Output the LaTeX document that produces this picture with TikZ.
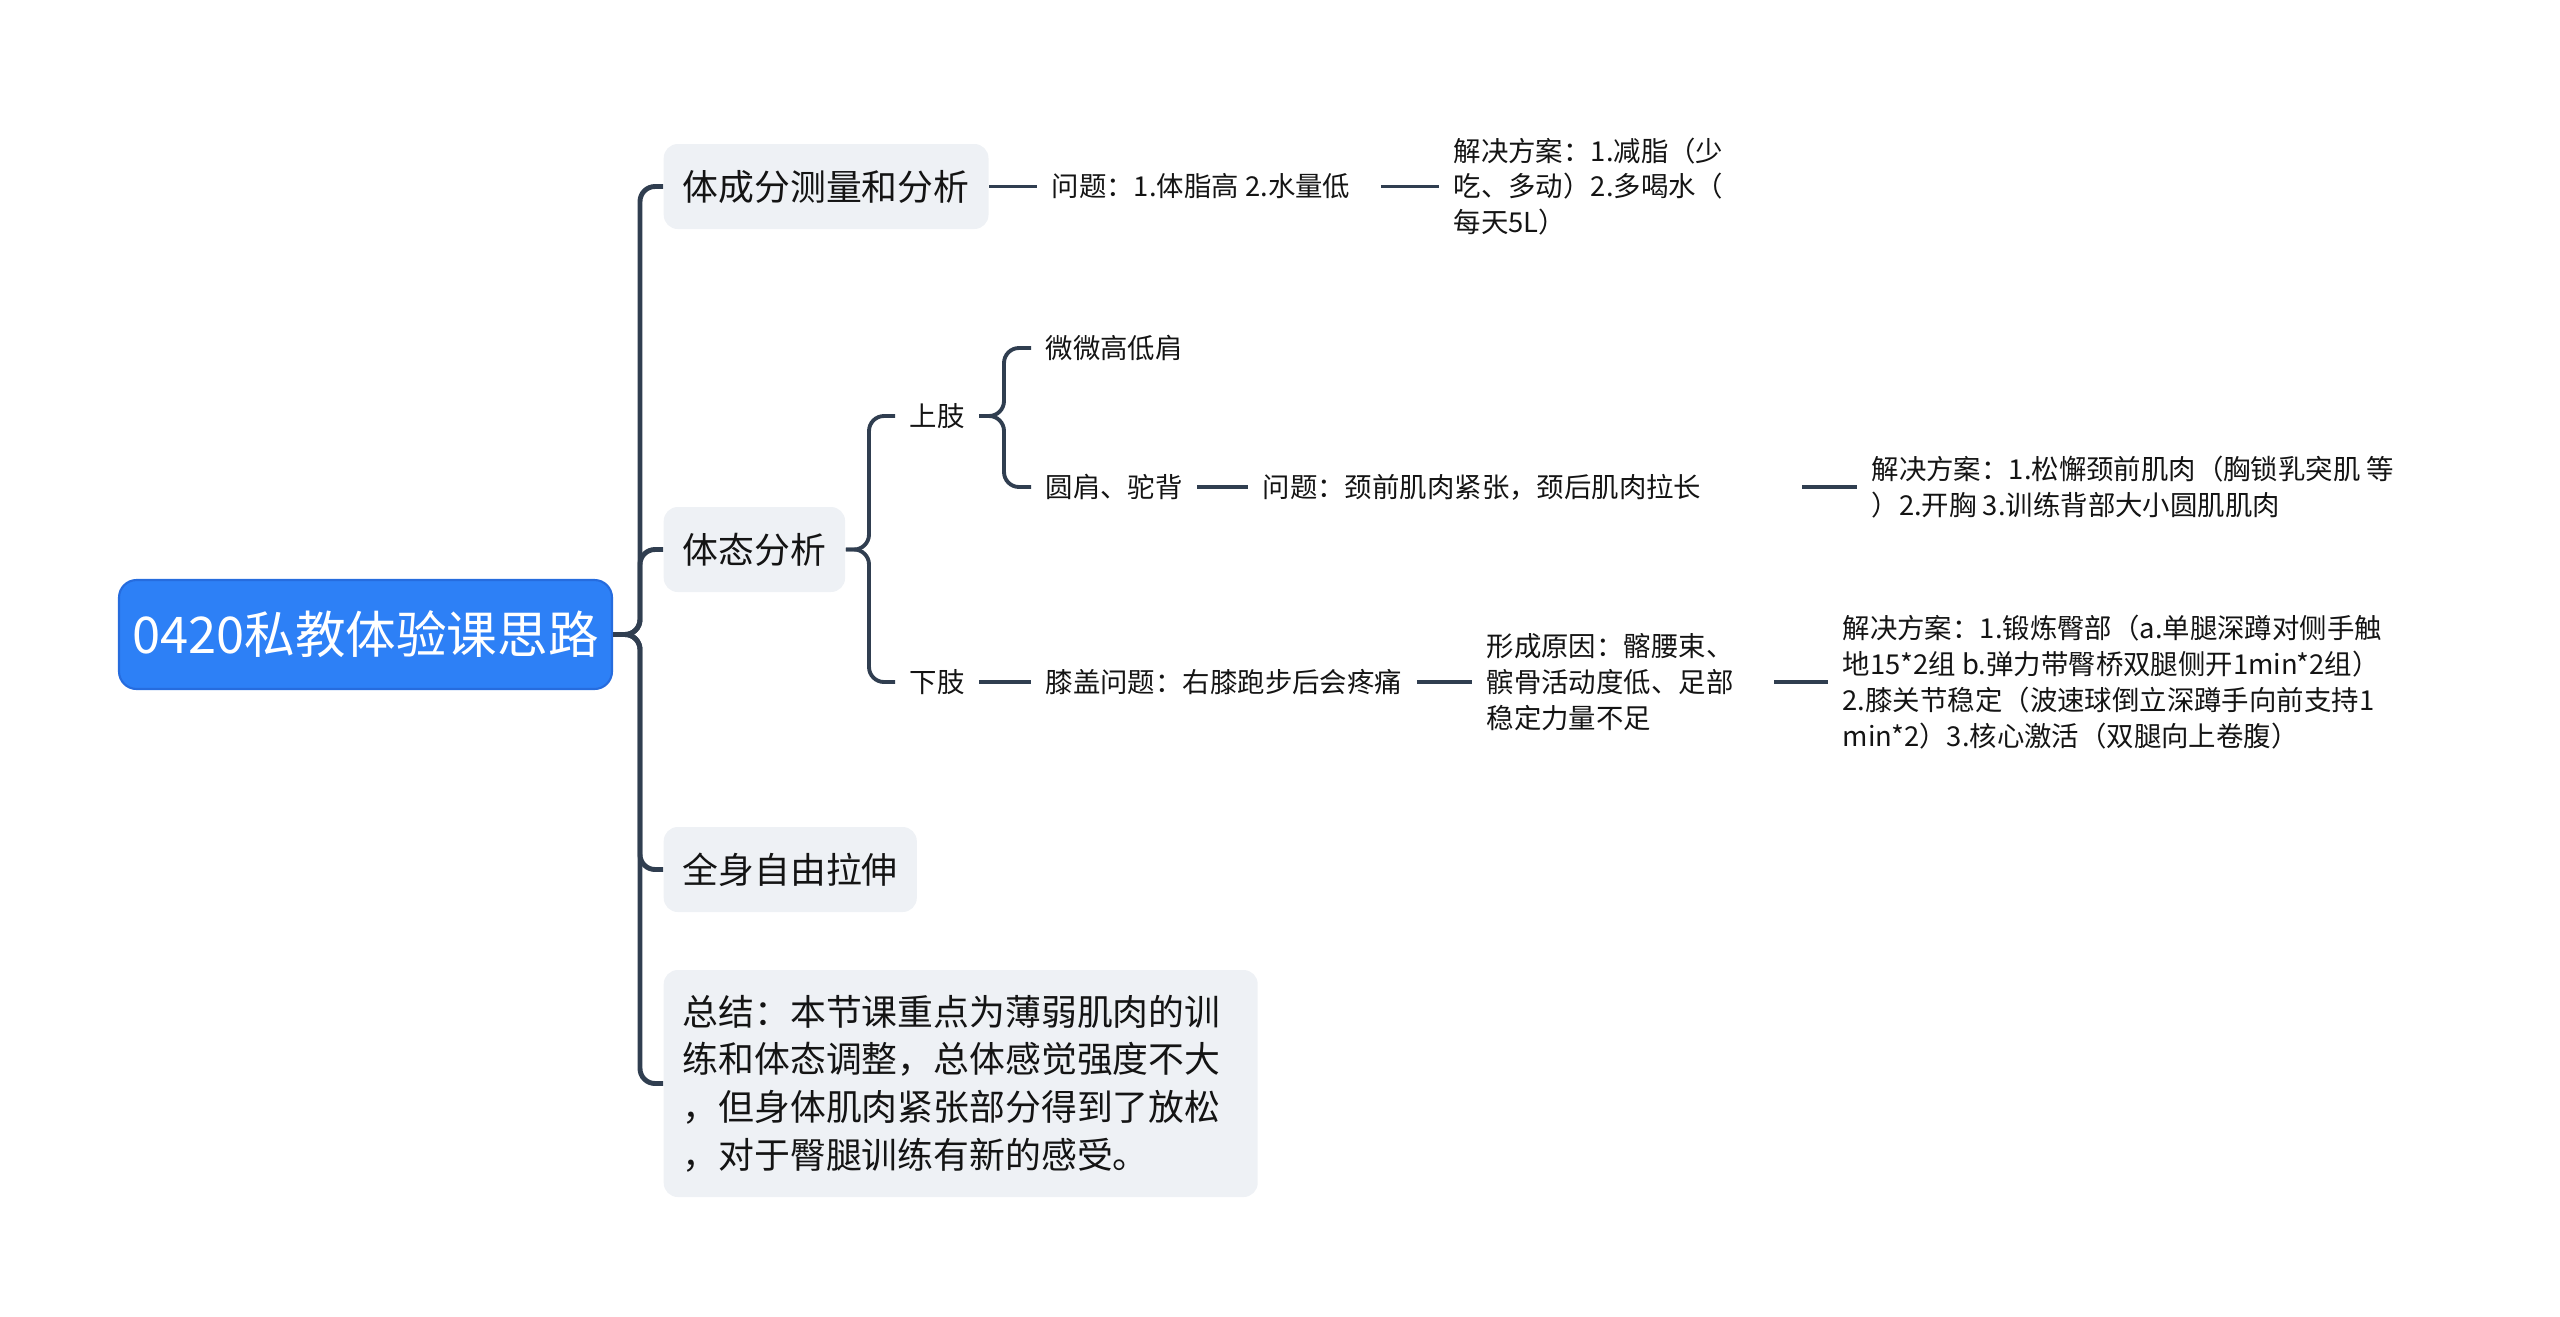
\documentclass[tikz,border=0pt]{standalone}
\usepackage{fontspec}
\setmainfont{Noto Sans CJK SC}
\usepackage{tikz}
\usetikzlibrary{positioning}
\definecolor{rootBlue}{RGB}{45, 128, 246}
\definecolor{rootEdge}{RGB}{38, 108, 222}
\definecolor{topicGray}{RGB}{238, 241, 245}
\definecolor{lineColor}{RGB}{48, 62, 80}
\definecolor{textColor}{RGB}{20, 20, 20}

\begin{document}
\begin{tikzpicture}[
    root/.style={rectangle, fill=rootBlue, draw=rootEdge, line width=0.6pt, rounded corners=5pt, text=white, font=\fontsize{14.4pt}{17pt}\selectfont, minimum width=4.93cm, minimum height=1.09cm},
    topic/.style={rectangle, fill=topicGray, rounded corners=4pt, text=textColor, font=\fontsize{10.2pt}{13.6pt}\selectfont, inner xsep=0.19cm, minimum height=0.85cm, anchor=west},
    leaf/.style={text=textColor, font=\fontsize{7.8pt}{10.2pt}\selectfont, align=left, inner xsep=0.14cm, inner ysep=0.05cm, anchor=west},
    link/.style={draw=lineColor, line width=1.4pt, rounded corners=0.15cm},
    sublink/.style={draw=lineColor, line width=1.1pt, rounded corners=0.15cm}
]
    \useasboundingbox (0,0) rectangle (25.6,-13.16);

    % Centro
    \node (root) [root] at (3.655,-6.345) {0420私教体验课思路};

    % Ramos principais
    \node (body) [topic] at (6.63,-1.865) {体成分测量和分析};
    \node (posture) [topic] at (6.63,-5.495) {体态分析};
    \node (stretch) [topic] at (6.63,-8.695) {全身自由拉伸};
    \node (summary) [topic, align=left, text width=5.56cm, minimum height=2.27cm] at (6.63,-10.835) {总结：本节课重点为薄弱肌肉的训\\练和体态调整，总体感觉强度不大\\，但身体肌肉紧张部分得到了放松\\，对于臀腿训练有新的感受。};

    %体成分
    \node (fatQ) [leaf] at (10.37,-1.865) {问题：1.体脂高 2.水量低};
    \node (fatFix) [leaf] at (14.39,-1.865) {解决方案：1.减脂（少\\吃、多动）2.多喝水（\\每天5L）};

    % 体态
    \node (upper) [leaf] at (8.95,-4.16) {上肢};
    \node (lower) [leaf] at (8.95,-6.82) {下肢};
    \node (shoulder) [leaf] at (10.31,-3.48) {微微高低肩};
    \node (hunch) [leaf] at (10.31,-4.87) {圆肩、驼背};
    \node (neckQ) [leaf] at (12.48,-4.87) {问题：颈前肌肉紧张，颈后肌肉拉长};
    \node (neckFix) [leaf] at (18.57,-4.87) {解决方案：1.松懈颈前肌肉（胸锁乳突肌 等\\）2.开胸 3.训练背部大小圆肌肌肉};
    \node (kneeQ) [leaf] at (10.31,-6.82) {膝盖问题：右膝跑步后会疼痛};
    \node (cause) [leaf] at (14.72,-6.82) {形成原因：髂腰束、\\髌骨活动度低、足部\\稳定力量不足};
    \node (kneeFix) [leaf] at (18.28,-6.82) {解决方案：1.锻炼臀部（a.单腿深蹲对侧手触\\地15*2组 b.弹力带臀桥双腿侧开1min*2组）\\2.膝关节稳定（波速球倒立深蹲手向前支持1\\min*2）3.核心激活（双腿向上卷腹）};

    % Conexoes
    \coordinate (hub) at (6.40,-6.345);
    \path [link] (root.east) -- (hub) |- (body.west);
    \path [link] (root.east) -- (hub) |- (posture.west);
    \path [link] (root.east) -- (hub) |- (stretch.west);
    \path [link] (root.east) -- (hub) |- (summary.west);

    \path [sublink] (body.east) -- (fatQ.west);
    \path [sublink, shorten <=0.16cm] (fatQ.east) -- (fatFix.west);

    \coordinate (postureHub) at (8.69,-5.495);
    \path [sublink] (posture.east) -- (postureHub) |- (upper.west);
    \path [sublink] (posture.east) -- (postureHub) |- (lower.west);

    \coordinate (upperHub) at (10.04,-4.16);
    \path [sublink] (upper.east) -- (upperHub) |- (shoulder.west);
    \path [sublink] (upper.east) -- (upperHub) |- (hunch.west);
    \path [sublink] (hunch.east) -- (neckQ.west);
    \path [sublink, shorten <=0.86cm] (neckQ.east) -- (neckFix.west);

    \path [sublink] (lower.east) -- (kneeQ.west);
    \path [sublink] (kneeQ.east) -- (cause.west);
    \path [sublink, shorten <=0.26cm] (cause.east) -- (kneeFix.west);
\end{tikzpicture}
\end{document}
